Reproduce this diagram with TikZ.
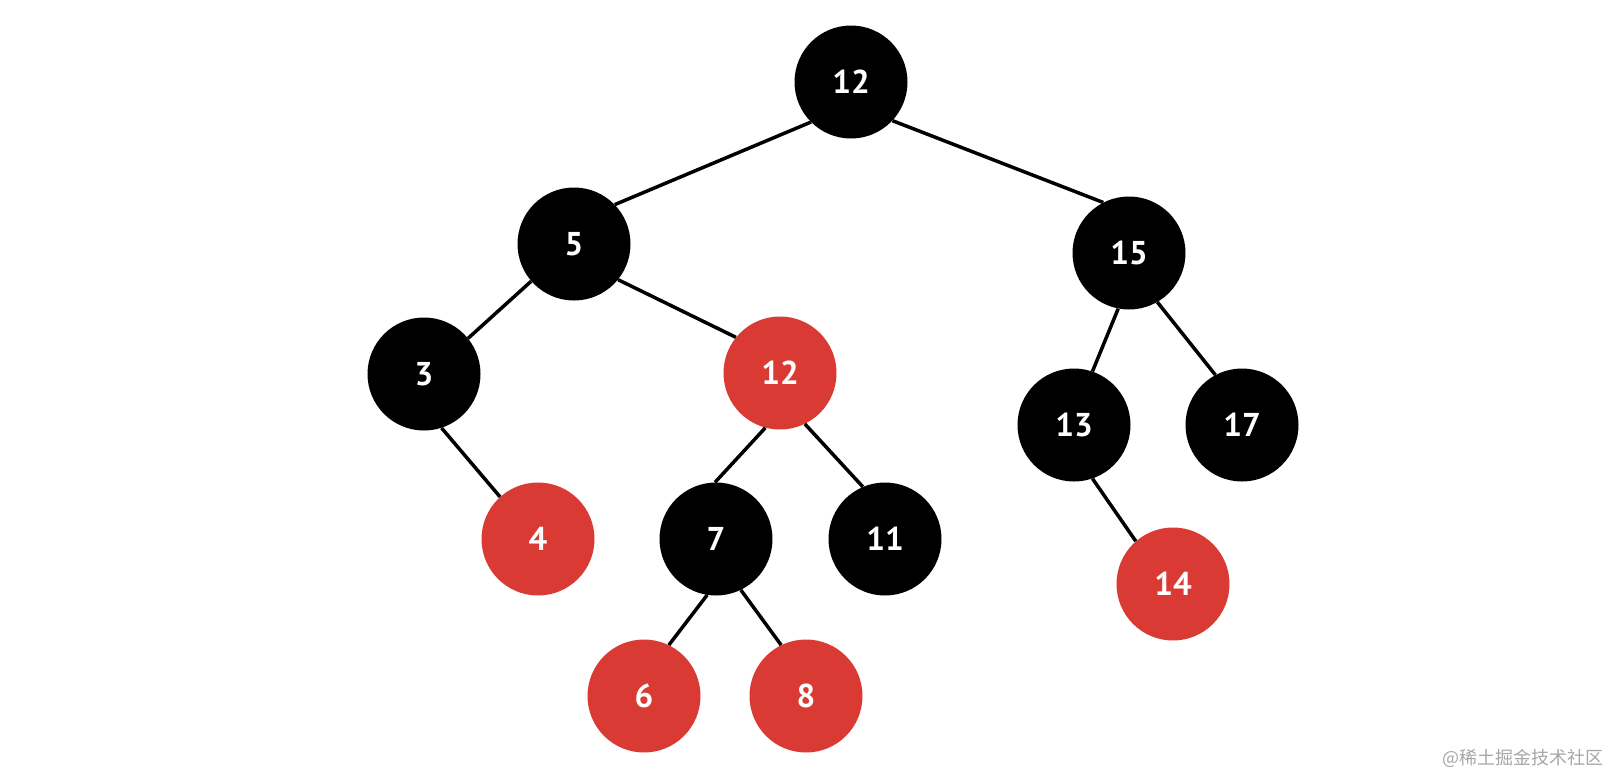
\documentclass[tikz,border=0pt]{standalone}
\usepackage{fontspec}
\setmainfont{PT Sans}
\newfontfamily\cjk{Noto Sans CJK SC}
\definecolor{rbred}{HTML}{D93A33}
\begin{document}
\begin{tikzpicture}[x=1pt,y=-1pt,
  nd/.style={circle,minimum size=113pt,inner sep=0pt,text=white,font=\fontsize{33}{34}\selectfont\bfseries},
  blk/.style={nd,fill=black},
  rd/.style={nd,fill=rbred},
  edge/.style={line width=3.5pt,black}]
\useasboundingbox (0,0) rectangle (1610,772);
\node[blk] (r) at (851,82) {12};
\node[blk] (a) at (574,244) {5};
\node[blk] (b) at (1129,253) {15};
\node[blk] (c) at (424,374) {3};
\node[rd]  (d) at (780,373) {12};
\node[blk] (e) at (1074,425) {13};
\node[blk] (f) at (1242,425) {17};
\node[rd]  (g) at (538,539) {4};
\node[blk] (h) at (716,539) {7};
\node[blk] (i) at (885,539) {11};
\node[rd]  (j) at (1173,584) {14};
\node[rd]  (k) at (644,696) {6};
\node[rd]  (l) at (806,696) {8};
\draw[edge] (r.225) -- (a.44);
\draw[edge] (r.317) -- (b.117);
\draw[edge] (a.221) -- (c.39);
\draw[edge] (a.321) -- (d.141);
\draw[edge] (c.288) -- (g.132);
\draw[edge] (d.255) -- (h.91);
\draw[edge] (d.296) -- (i.113);
\draw[edge] (b.259) -- (e.71);
\draw[edge] (b.300) -- (f.118);
\draw[edge] (e.289) -- (j.131);
\draw[edge] (h.261) -- (k.64);
\draw[edge] (h.296) -- (l.116);
\node[anchor=base east,text=black!35,font=\cjk\fontsize{18}{20}\selectfont,inner sep=0pt] (wm) at (1604,764) {@稀土掘金技术社区};
\end{tikzpicture}
\end{document}
